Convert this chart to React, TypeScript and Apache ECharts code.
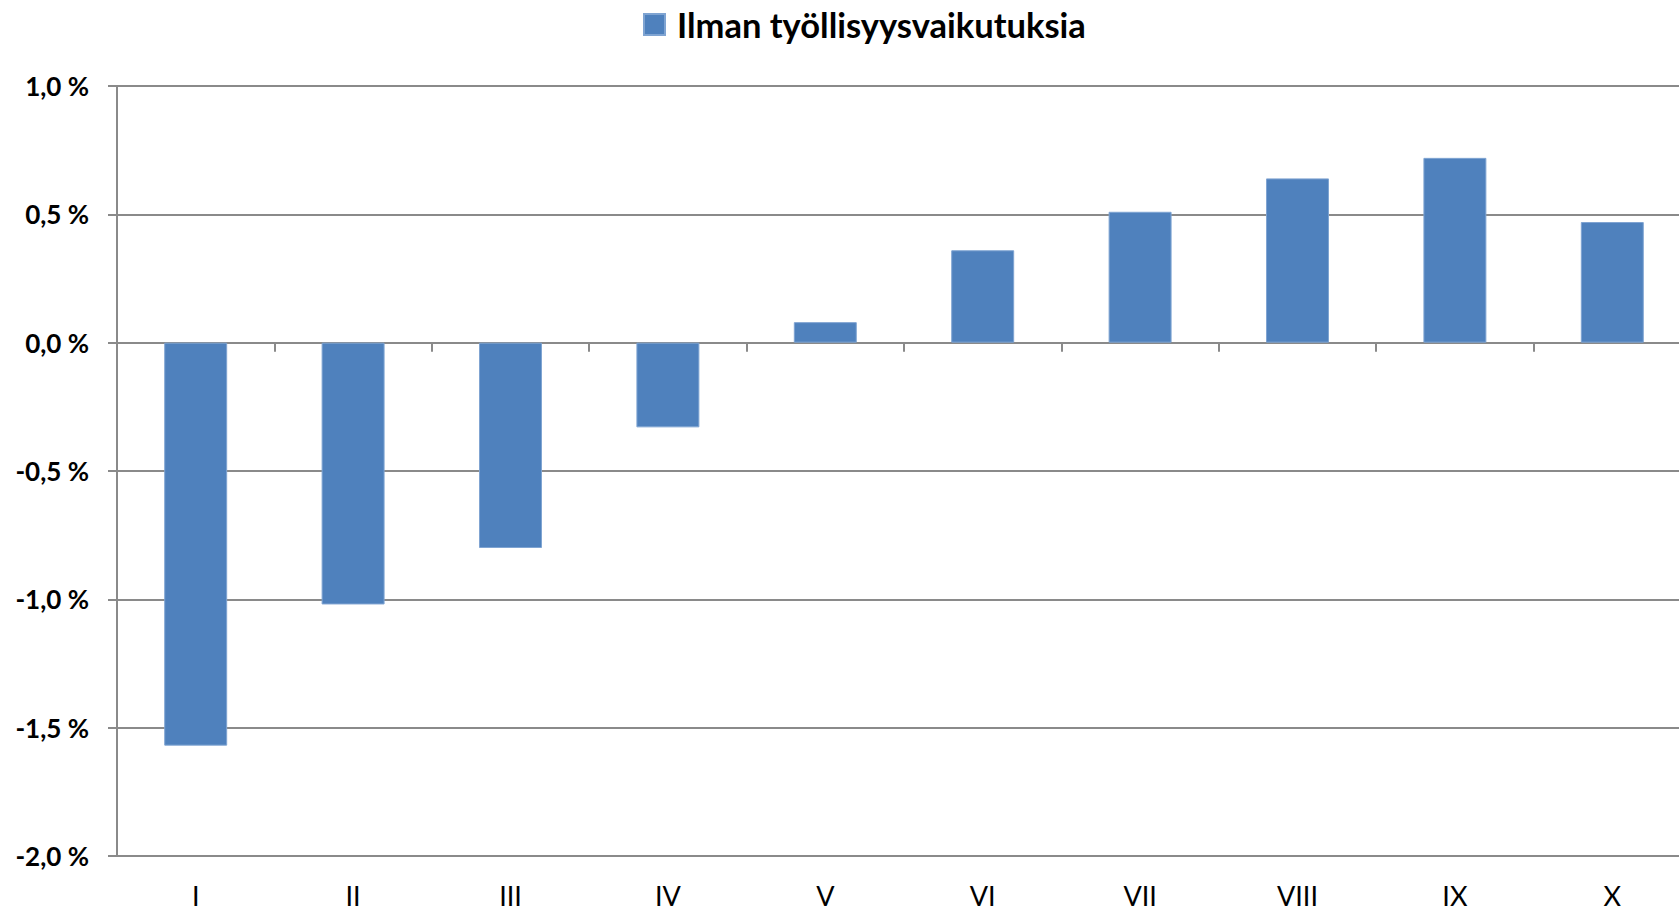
import React, { useEffect, useRef } from "react";
import * as echarts from "echarts";

const categories = ["I", "II", "III", "IV", "V", "VI", "VII", "VIII", "IX", "X"];
const values = [-1.57, -1.02, -0.8, -0.33, 0.08, 0.36, 0.51, 0.64, 0.72, 0.47];
const seriesName = "Ilman työllisyysvaikutuksia";
const yMin = -2;
const yMax = 1;
const yStep = 0.5;

export default function App() {
  const ref = useRef<HTMLDivElement>(null);
  useEffect(() => {
    if (!ref.current) return;
    const chart = echarts.init(ref.current, null, { renderer: "svg" });
    const gray = "#8a8a8a";
    chart.setOption({
      animation: false,
      backgroundColor: "#ffffff",
      textStyle: { fontFamily: "Lato" },
      legend: {
        data: [seriesName],
        left: 638,
        top: 2,
        itemWidth: 21,
        itemHeight: 21,
        itemGap: 10,
        icon: "rect",
        textStyle: {
          fontSize: 34.5,
          lineHeight: 21,
          fontWeight: "bold",
          color: "#000",
          fontFamily: "Lato",
          padding: [0, 0, 0, 7],
        },
      },
      grid: { left: 117, right: 0, top: 86, bottom: 56, containLabel: false },
      xAxis: [
        {
          type: "category",
          data: categories,
          position: "bottom",
          axisLine: { show: true, onZero: true, lineStyle: { color: gray, width: 2 } },
          axisTick: { show: true, length: 9, inside: false, lineStyle: { color: gray, width: 2 } },
          axisLabel: { show: false },
          splitLine: { show: false },
        },
        {
          type: "category",
          data: categories,
          position: "bottom",
          axisLine: { show: false, onZero: false },
          axisTick: { show: false },
          axisLabel: { show: true, margin: 26, fontSize: 27, color: "#000", fontFamily: "Lato" },
          splitLine: { show: false },
        },
      ],
      yAxis: {
        type: "value",
        min: yMin,
        max: yMax,
        interval: yStep,
        axisLine: { show: true, lineStyle: { color: gray, width: 2 } },
        axisTick: { show: true, length: 9, lineStyle: { color: gray, width: 2 } },
        axisLabel: {
          margin: 28,
          fontSize: 26,
          fontWeight: "bold",
          color: "#000",
          fontFamily: "Lato",
          formatter: (v: number) => v.toFixed(1).replace(".", ",") + " %",
        },
        splitLine: { show: true, lineStyle: { color: gray, width: 2 } },
      },
      series: [
        {
          name: seriesName,
          type: "bar",
          data: values,
          barWidth: "40%",
          itemStyle: { color: "#4f81bd", borderColor: "#7fa4d2", borderWidth: 1 },
        },
      ],
    });
    return () => chart.dispose();
  }, []);
  return (
    <div
      style={{
        position: "fixed",
        left: 0,
        top: 0,
        width: 1679,
        height: 912,
        overflow: "hidden",
        background: "#fff",
      }}
    >
      <div ref={ref} style={{ width: 1691, height: 912 }} />
    </div>
  );
}
